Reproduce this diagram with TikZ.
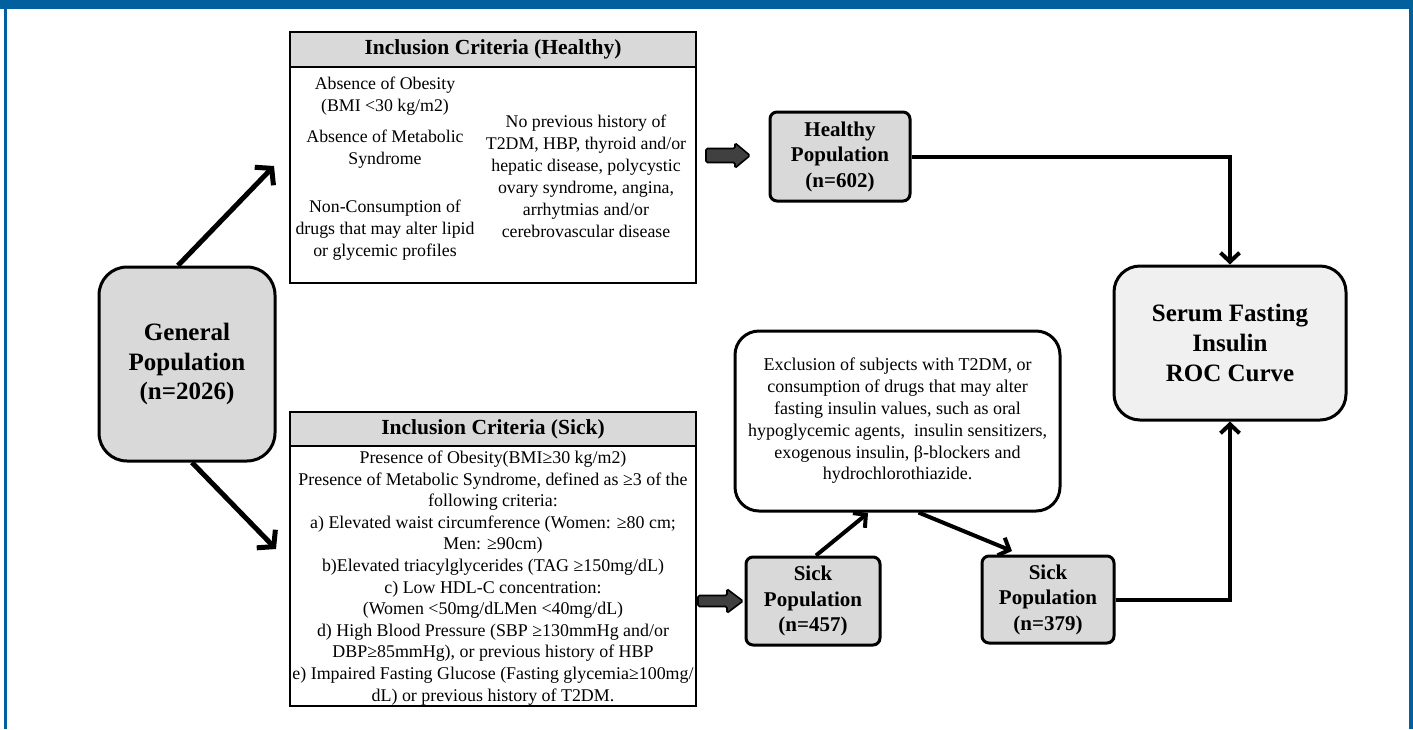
\documentclass[tikz,border=0pt]{standalone}
\usepackage{fontspec}
\setmainfont{Liberation Serif}
\usetikzlibrary{arrows.meta,calc}
\definecolor{frameblue}{RGB}{2,96,158}
\definecolor{boxgray}{RGB}{217,217,217}
\definecolor{rocgray}{RGB}{240,240,240}
\definecolor{arrowgray}{RGB}{64,64,64}
\begin{document}
\begin{tikzpicture}[x=1pt,y=-1pt,
  popbox/.style={draw,line width=3pt,rounded corners=7pt,fill=boxgray,align=center,inner sep=0pt,
    font={\bfseries\fontsize{21}{25.5}\selectfont}},
  critbox/.style={draw,line width=1.8pt,inner sep=0pt},
  crithead/.style={draw,line width=1.8pt,fill=boxgray,inner sep=0pt,minimum width=406pt,
    font={\bfseries\fontsize{21.5}{25}\selectfont}},
  healthytxt/.style={align=center,inner sep=0pt,font={\fontsize{17.8}{22}\selectfont}},
  sicktxt/.style={align=center,inner sep=0pt,font={\fontsize{17.9}{21.6}\selectfont}},
  bigarrow/.style={line width=5pt,-{Straight Barb[length=11pt,width=26pt]}},
  flowarrow/.style={line width=4pt,-{Straight Barb[length=9pt,width=19pt]}},
  blockarrow/.style={fill=arrowgray,draw=black,line width=1.6pt,rounded corners=1.5pt}
]
\useasboundingbox (0,0) rectangle (1413,729);
\fill[white] (0,0) rectangle (1413,729);
% frame
\fill[frameblue] (0,0) rectangle (1413,9);
\fill[frameblue] (4,0) rectangle (7,729);
\fill[frameblue] (1409,0) rectangle (1413,729);

% general population
\node[popbox,rounded corners=28pt,minimum width=176pt,minimum height=194pt,
  font={\bfseries\fontsize{25}{29.5}\selectfont}] (gp) at (187,364) {General\\Population\\(n=2026)};

% healthy criteria box
\node[critbox,minimum width=406pt,minimum height=251pt] (hc) at (493,157.5) {};
\node[crithead,minimum height=35pt,anchor=north] (hch) at (hc.north) {Inclusion Criteria (Healthy)};
\node[healthytxt] (hc1) at (385,96) {Absence of Obesity\\(BMI <30 kg/m2)};
\node[healthytxt] (hc2) at (385,149) {Absence of Metabolic\\Syndrome};
\node[healthytxt] (hc3) at (385,230) {Non-Consumption of\\drugs that may alter lipid\\or glycemic profiles};
\node[healthytxt] (hc4) at (586,176) {No previous history of\\T2DM, HBP, thyroid and/or\\hepatic disease, polycystic\\ovary syndrome, angina,\\arrhytmias and/or\\cerebrovascular disease};

% sick criteria box
\node[critbox,minimum width=406pt,minimum height=294pt] (sc) at (493,559) {};
\node[crithead,minimum height=34pt,anchor=north] (sch) at (sc.north) {Inclusion Criteria (Sick)};
\node[sicktxt] (sct) at (493,578) {Presence of Obesity(BMI≥30 kg/m2)\\
Presence of Metabolic Syndrome, defined as ≥3 of the\\
following criteria:\\
a) Elevated waist circumference (Women: ≥80 cm;\\
Men: ≥90cm)\\
b)Elevated triacylglycerides (TAG ≥150mg/dL)\\
c) Low HDL-C concentration:\\
(Women <50mg/dLMen <40mg/dL)\\
d) High Blood Pressure (SBP ≥130mmHg and/or\\
DBP≥85mmHg), or previous history of HBP\\
e) Impaired Fasting Glucose (Fasting glycemia≥100mg/\\
dL) or previous history of T2DM.};

% population boxes
\node[popbox,minimum width=140pt,minimum height=89pt] (hp) at (840,156.5) {Healthy\\Population\\(n=602)};
\node[popbox,minimum width=134pt,minimum height=88pt] (s457) at (813,601) {Sick\\Population\\(n=457)};
\node[popbox,minimum width=132pt,minimum height=87pt] (s379) at (1048,599.5) {Sick\\Population\\(n=379)};
\node[popbox,fill=rocgray,rounded corners=26pt,minimum width=232pt,minimum height=154pt,
  font={\bfseries\fontsize{25}{30}\selectfont}] (roc) at (1230,343) {Serum Fasting\\Insulin\\ROC Curve};
\node[draw,line width=3pt,rounded corners=24pt,fill=white,minimum width=325pt,minimum height=180pt,
  align=center,inner sep=0pt,font={\fontsize{18}{21.8}\selectfont}] (excl) at (897.5,421)
  {Exclusion of subjects with T2DM, or\\consumption of drugs that may alter\\fasting insulin values, such as oral\\hypoglycemic agents,~ insulin sensitizers,\\exogenous insulin, β-blockers and\\hydrochlorothiazide.};

% connectors
\coordinate (t1) at (274,166);
\coordinate (t2) at (276,549);
\coordinate (t3) at (868,513);
\coordinate (t4) at (1012,551);
\draw[bigarrow] ($(gp.north)+(-9,0)$) -- (t1);
\draw[bigarrow] ($(gp.south)+(5,0)$) -- (t2);
\draw[flowarrow] (hp.east) -| (roc.north);
\draw[flowarrow] (s379.east) -| (roc.south);
\draw[flowarrow] ($(s457.north)+(3,0)$) -- (t3);
\draw[flowarrow] ($(excl.south)+(21,0)$) -- (t4);

% block arrows
\draw[blockarrow] (706,148.5) -- (735,148.5) -- (735,143) -- (750,155.5) -- (735,168) -- (735,162.5) -- (706,162.5) -- cycle;
\draw[blockarrow] (698,595.5) -- (727,595.5) -- (727,589) -- (743,601) -- (727,613) -- (727,606.5) -- (698,606.5) -- cycle;
\end{tikzpicture}
\end{document}
